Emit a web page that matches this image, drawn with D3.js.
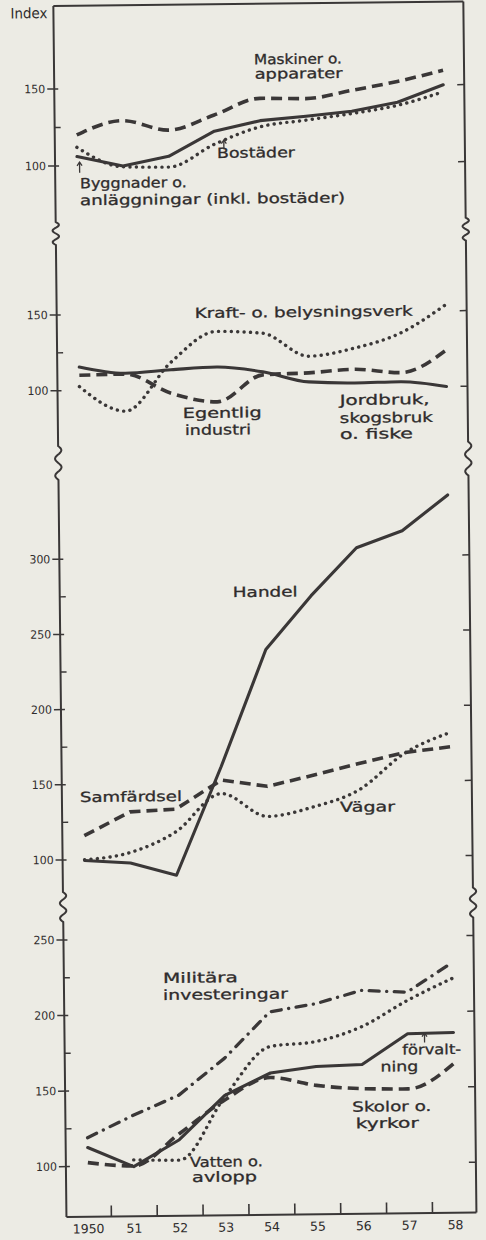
<!DOCTYPE html>
<html><head><meta charset="utf-8">
<script src="https://cdn.jsdelivr.net/npm/d3@7/dist/d3.min.js"></script>
<style>html,body{margin:0;padding:0;background:#ecebe4;} svg{display:block}</style>
</head><body>
<svg id="c" width="486" height="1240"></svg>
<script>
// ---------- data ----------
const years = [1950,1951,1952,1953,1954,1955,1956,1957,1958];
const yearLabels = ["1950","51","52","53","54","55","56","57","58"];

// Panel 1
const maskiner   = [120, 129, 122.5, 132, 142.5, 142, 147, 152.5, 159.5];
const byggnader  = [106, 99.5, 105.5, 121.5, 128, 130.5, 133.5, 139, 150];
const bostader   = [112, 99, 98.5, 113, 124, 128, 132, 137, 145.5];
// Panel 2
const kraft      = [102.5, 86, 118, 138, 136.5, 121, 126, 135.5, 154];
const jordbruk   = [115.5, 111, 113, 114.5, 111, 104, 103, 103.5, 100];
const industri   = [110, 110.5, 97.5, 91.5, 109, 110, 112, 109.5, 124];
// Panel 3
const handel     = [99.5, 97.5, 89, 161, 238.5, 274, 305.5, 316.5, 340];
const samfardsel = [116, 131.5, 133, 152, 147.5, 154.5, 162, 169, 172.5];
const vagar      = [100, 104.5, 118, 143, 127.5, 133.5, 144.5, 168.5, 182];
// Panel 4
const militara   = [119, 133.5, 146.5, 170.5, 201, 206, 214.5, 213, 232.5];
const forvaltning= [112.5, 99.5, 117, 146, 160.5, 164.5, 165.5, 185.5, 186];
const skolor     = [102.5, 100, 121, 143, 157.5, 152, 149.5, 149, 165.5];
const vatten     = [null, 104, 103.5, 145, 178, 181, 190.5, 207.5, 222];

// tick labels per panel
const p1Ticks = [100, 150], p1Minor = [125];
const p2Ticks = [100, 150], p2Minor = [125];
const p3Ticks = [100, 150, 200, 250, 300], p3Minor = [125, 175, 225, 275];
const p4Ticks = [100, 150, 200, 250], p4Minor = [125, 175, 225];

// ---------- layout ----------
const W = 486, H = 1240;
const AXL = 60, AXR = 470, TOP = 4, BOT = 1215;
const breaks = [[220, 243], [444, 478], [890, 920]];
const INK = "#3a3737", TXT = "#2f2c2c";

const svg = d3.select("#c");
svg.append("rect").attr("width", W).attr("height", H).attr("fill", "#ecebe4");
const g = svg.append("g").attr("transform", "rotate(-0.62 243 620)");

const x = d3.scaleLinear().domain([1950, 1958]).range([82, 449]);

const styles = {
  solid:   {w: 3.1, dash: null, cap: "round"},
  dashed:  {w: 3.6, dash: "11 6", cap: "butt"},
  dotted:  {w: 3.4, dash: "0.1 6.3", cap: "round"},
  dashdot: {w: 3.3, dash: "10 7.5 0.1 7.5", cap: "round"}
};

const panels = [
  {y: d3.scaleLinear().domain([100,150]).range([164,87]), ticks: p1Ticks, minor: p1Minor,
   series: [[byggnader,"solid","linear"],[maskiner,"dashed","mono"],[bostader,"dotted","mono"]]},
  {y: d3.scaleLinear().domain([100,150]).range([388.7,313]), ticks: p2Ticks, minor: p2Minor,
   series: [[jordbruk,"solid","mono"],[industri,"dashed","mono"],[kraft,"dotted","mono"]]},
  {y: d3.scaleLinear().domain([100,300]).range([858,557.3]), ticks: p3Ticks, minor: p3Minor,
   series: [[handel,"solid","linear"],[samfardsel,"dashed","linear"],[vagar,"dotted","mono"]]},
  {y: d3.scaleLinear().domain([100,250]).range([1164.7,938]), ticks: p4Ticks, minor: p4Minor,
   series: [[forvaltning,"solid","linear"],[skolor,"dashed","mono"],[militara,"dashdot","linear"],[vatten,"dotted","mono"]]}
];

// ---------- frame ----------
function axisPath(x0) {
  let p = `M${x0},${TOP}`;
  breaks.forEach(([a, b]) => {
    p += `V${a}`;
    const n = 30;
    for (let i = 1; i <= n; i++) {
      const t = i / n;
      p += `L${(x0 + 3.2 * Math.sin(2 * Math.PI * 2 * t)).toFixed(2)},${(a + t * (b - a)).toFixed(2)}`;
    }
  });
  p += `V${BOT}`;
  return p;
}
g.append("path").attr("d", axisPath(AXL)).attr("fill", "none").attr("stroke", INK).attr("stroke-width", 2);
g.append("path").attr("d", axisPath(AXR)).attr("fill", "none").attr("stroke", INK).attr("stroke-width", 2);
g.append("line").attr("x1", AXL).attr("x2", AXR).attr("y1", TOP).attr("y2", TOP).attr("stroke", INK).attr("stroke-width", 2);
g.append("line").attr("x1", AXL).attr("x2", AXR).attr("y1", BOT).attr("y2", BOT).attr("stroke", INK).attr("stroke-width", 2);

// bottom ticks between years
const xt = g.append("g");
xt.selectAll("line").data(years.slice(0, -1)).join("line")
  .attr("x1", d => x(d + 0.5)).attr("x2", d => x(d + 0.5))
  .attr("y1", BOT).attr("y2", BOT - 11).attr("stroke", INK).attr("stroke-width", 1.6);
xt.selectAll("text").data(years).join("text")
  .attr("x", d => x(d)).attr("y", BOT + 16.5).attr("text-anchor", "middle")
  .attr("font-family", "DejaVu Sans").attr("font-size", 12.5).attr("fill", TXT)
  .text((d, i) => yearLabels[i]);

g.append("text").attr("x", 54).attr("y", 16).attr("text-anchor", "end")
  .attr("font-family", "DejaVu Sans").attr("font-size", 14.5).attr("fill", TXT)
  .attr("textLength", 37).attr("lengthAdjust", "spacingAndGlyphs").text("Index");

// ---------- panels ----------
panels.forEach(p => {
  const tg = g.append("g");
  p.ticks.forEach(v => {
    const yy = p.y(v);
    tg.append("line").attr("x1", AXL - 7).attr("x2", AXL + 4).attr("y1", yy).attr("y2", yy).attr("stroke", INK).attr("stroke-width", 1.5);
    tg.append("line").attr("x1", AXR - 7).attr("x2", AXR).attr("y1", yy).attr("y2", yy).attr("stroke", INK).attr("stroke-width", 1.5);
    tg.append("text").attr("x", AXL - 9).attr("y", yy + 4).attr("text-anchor", "end")
      .attr("font-family", "DejaVu Sans").attr("font-size", 11.5).attr("fill", TXT)
      .attr("textLength", 21).attr("lengthAdjust", "spacingAndGlyphs").text(v);
  });
  p.minor.forEach(v => {
    const yy = p.y(v);
    tg.append("line").attr("x1", AXL).attr("x2", AXL + 6).attr("y1", yy).attr("y2", yy).attr("stroke", INK).attr("stroke-width", 1.4);
  });
  p.series.forEach(([vals, st, cv]) => {
    const s = styles[st];
    const line = d3.line()
      .defined(d => d[1] != null)
      .x(d => x(d[0])).y(d => p.y(d[1]))
      .curve(cv === "mono" ? d3.curveMonotoneX : d3.curveLinear);
    g.append("path").attr("d", line(years.map((yr, i) => [yr, vals[i]])))
      .attr("fill", "none").attr("stroke", INK).attr("stroke-width", s.w)
      .attr("stroke-linecap", s.cap).attr("stroke-linejoin", "round")
      .attr("stroke-dasharray", s.dash);
  });
});

// ---------- annotations ----------
const labels = [
  ["Maskiner o.", 260, 64.5, 88],
  ["apparater", 260.5, 79, 88],
  ["Bostäder", 222, 157.7, 78],
  ["Byggnader o.", 84.6, 186.5, 107],
  ["anläggningar (inkl. bostäder)", 84.5, 203.5, 265],
  ["Kraft- o. belysningsverk", 198, 317.5, 218],
  ["Egentlig", 185, 417.4, 79],
  ["industri", 187, 434.4, 66],
  ["Jordbruk,", 342, 406, 90],
  ["skogsbruk", 342, 424, 93],
  ["o. fiske", 342, 440, 73],
  ["Handel", 233, 597, 65],
  ["Samfärdsel", 78, 800.3, 102],
  ["Vägar", 338, 813, 55],
  ["Militära", 159, 982, 75],
  ["investeringar", 159, 999, 125],
  ["förvalt-", 397.5, 1056.3, 59],
  ["ning", 375.5, 1073, 38],
  ["Skolor o.", 347, 1112.9, 79],
  ["kyrkor", 350.3, 1129.5, 63],
  ["Vatten o.", 184, 1166.4, 73],
  ["avlopp", 186, 1181.4, 65]
];
g.append("g").selectAll("text").data(labels).join("text")
  .attr("x", d => d[1]).attr("y", d => d[2])
  .attr("font-family", "DejaVu Sans").attr("font-size", 14).attr("fill", TXT)
  .attr("stroke", TXT).attr("stroke-width", 0.3)
  .attr("textLength", d => d[3]).attr("lengthAdjust", "spacingAndGlyphs")
  .text(d => d[0]);

// small pointer arrows
const arrows = [[84.5, 171, 160.5], [229, 149, 140], [420, 1044.5, 1035]];
arrows.forEach(([ax, y1, y2]) => {
  g.append("line").attr("x1", ax).attr("x2", ax).attr("y1", y1).attr("y2", y2).attr("stroke", INK).attr("stroke-width", 1.3);
  g.append("path").attr("d", `M${ax-2.5},${y2+3.5}L${ax},${y2}L${ax+2.5},${y2+3.5}`)
    .attr("fill", "none").attr("stroke", INK).attr("stroke-width", 1.3);
});
</script>
</body></html>
